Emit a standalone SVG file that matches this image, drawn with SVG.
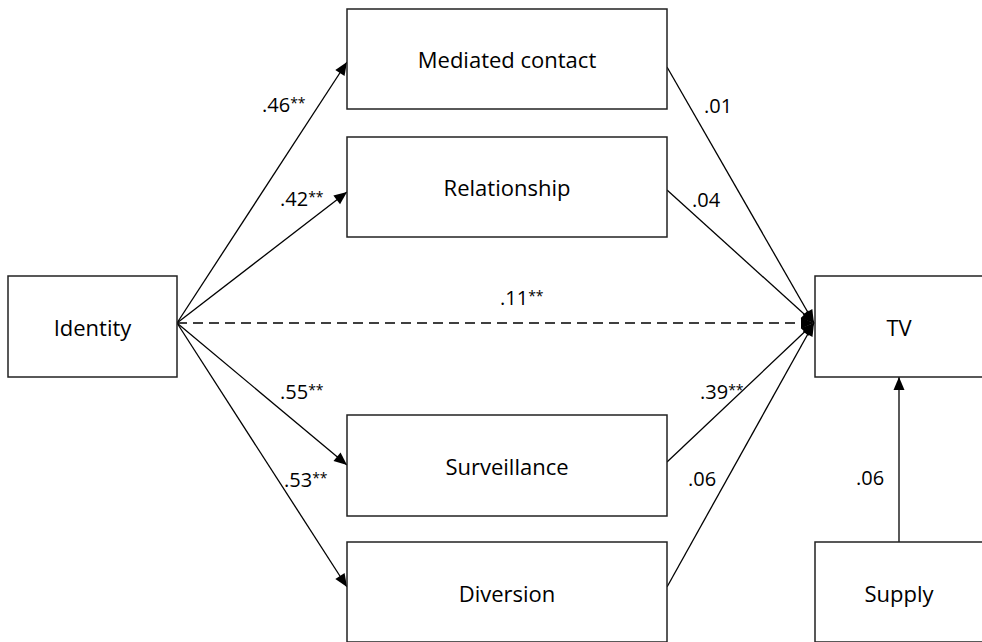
<svg xmlns="http://www.w3.org/2000/svg" width="982" height="642" viewBox="0 0 982 642">
  <style>
    .box { fill: #ffffff; stroke: #222222; stroke-width: 1.5; }
    .lbl { font-family: "Open Sans", "Liberation Sans", sans-serif; font-size: 22px; font-weight: 500; fill: #000000; text-anchor: middle; }
    .num { font-family: "Open Sans", "Liberation Sans", sans-serif; font-size: 20px; font-weight: 500; fill: #000000; }
    .st { font-size: 14px; }
    .edge { fill: none; stroke: #000000; stroke-width: 1.3; marker-end: url(#arr); }
    .dash { stroke-dasharray: 10 6; }
  </style>
  <defs>
    <marker id="arr" markerUnits="userSpaceOnUse" markerWidth="14" markerHeight="12" refX="13" refY="5.5" orient="auto" overflow="visible">
      <path d="M0,0 L13,5.5 L0,11 z" fill="#000000"/>
    </marker>
  </defs>
  <rect width="982" height="642" fill="#ffffff"/>

  <g id="connectors">
    <line class="edge" x1="177" y1="323" x2="347" y2="62"/>
    <line class="edge" x1="177" y1="323" x2="347" y2="192"/>
    <line class="edge dash" x1="177" y1="323" x2="814" y2="323"/>
    <line class="edge" x1="177" y1="323" x2="347" y2="465"/>
    <line class="edge" x1="177" y1="323" x2="347" y2="587"/>
    <line class="edge" x1="667" y1="67" x2="814" y2="323"/>
    <line class="edge" x1="667" y1="190" x2="814" y2="323"/>
    <line class="edge" x1="667" y1="462" x2="814" y2="323"/>
    <line class="edge" x1="667" y1="587" x2="814" y2="323"/>
    <line class="edge" x1="899" y1="542" x2="899" y2="377"/>
    <text class="num" x="262" y="112">.46<tspan class="st" dy="-4">**</tspan></text>
    <text class="num" x="280" y="206">.42<tspan class="st" dy="-4">**</tspan></text>
    <text class="num" x="500" y="305">.11<tspan class="st" dy="-4">**</tspan></text>
    <text class="num" x="280" y="399">.55<tspan class="st" dy="-4">**</tspan></text>
    <text class="num" x="284" y="487">.53<tspan class="st" dy="-4">**</tspan></text>
    <text class="num" x="704" y="113">.01</text>
    <text class="num" x="692" y="207">.04</text>
    <text class="num" x="700" y="399">.39<tspan class="st" dy="-4">**</tspan></text>
    <text class="num" x="688" y="486">.06</text>
    <text class="num" x="856" y="485">.06</text>
  </g>

  <g id="identity">
    <rect class="box" x="8" y="276" width="169" height="101"/>
    <text class="lbl" x="92.5" y="336">Identity</text>
  </g>
  <g id="mediated-contact">
    <rect class="box" x="347" y="9" width="320" height="100"/>
    <text class="lbl" x="507" y="68">Mediated contact</text>
  </g>
  <g id="relationship">
    <rect class="box" x="347" y="137" width="320" height="100"/>
    <text class="lbl" x="507" y="196">Relationship</text>
  </g>
  <g id="surveillance">
    <rect class="box" x="347" y="415" width="320" height="101"/>
    <text class="lbl" x="507" y="475">Surveillance</text>
  </g>
  <g id="diversion">
    <rect class="box" x="347" y="542" width="320" height="100"/>
    <text class="lbl" x="507" y="602">Diversion</text>
  </g>
  <g id="tv">
    <rect class="box" x="815" y="276" width="169" height="101"/>
    <text class="lbl" x="899" y="336">TV</text>
  </g>
  <g id="supply">
    <rect class="box" x="815" y="542" width="169" height="100"/>
    <text class="lbl" x="899" y="602">Supply</text>
  </g>
</svg>
